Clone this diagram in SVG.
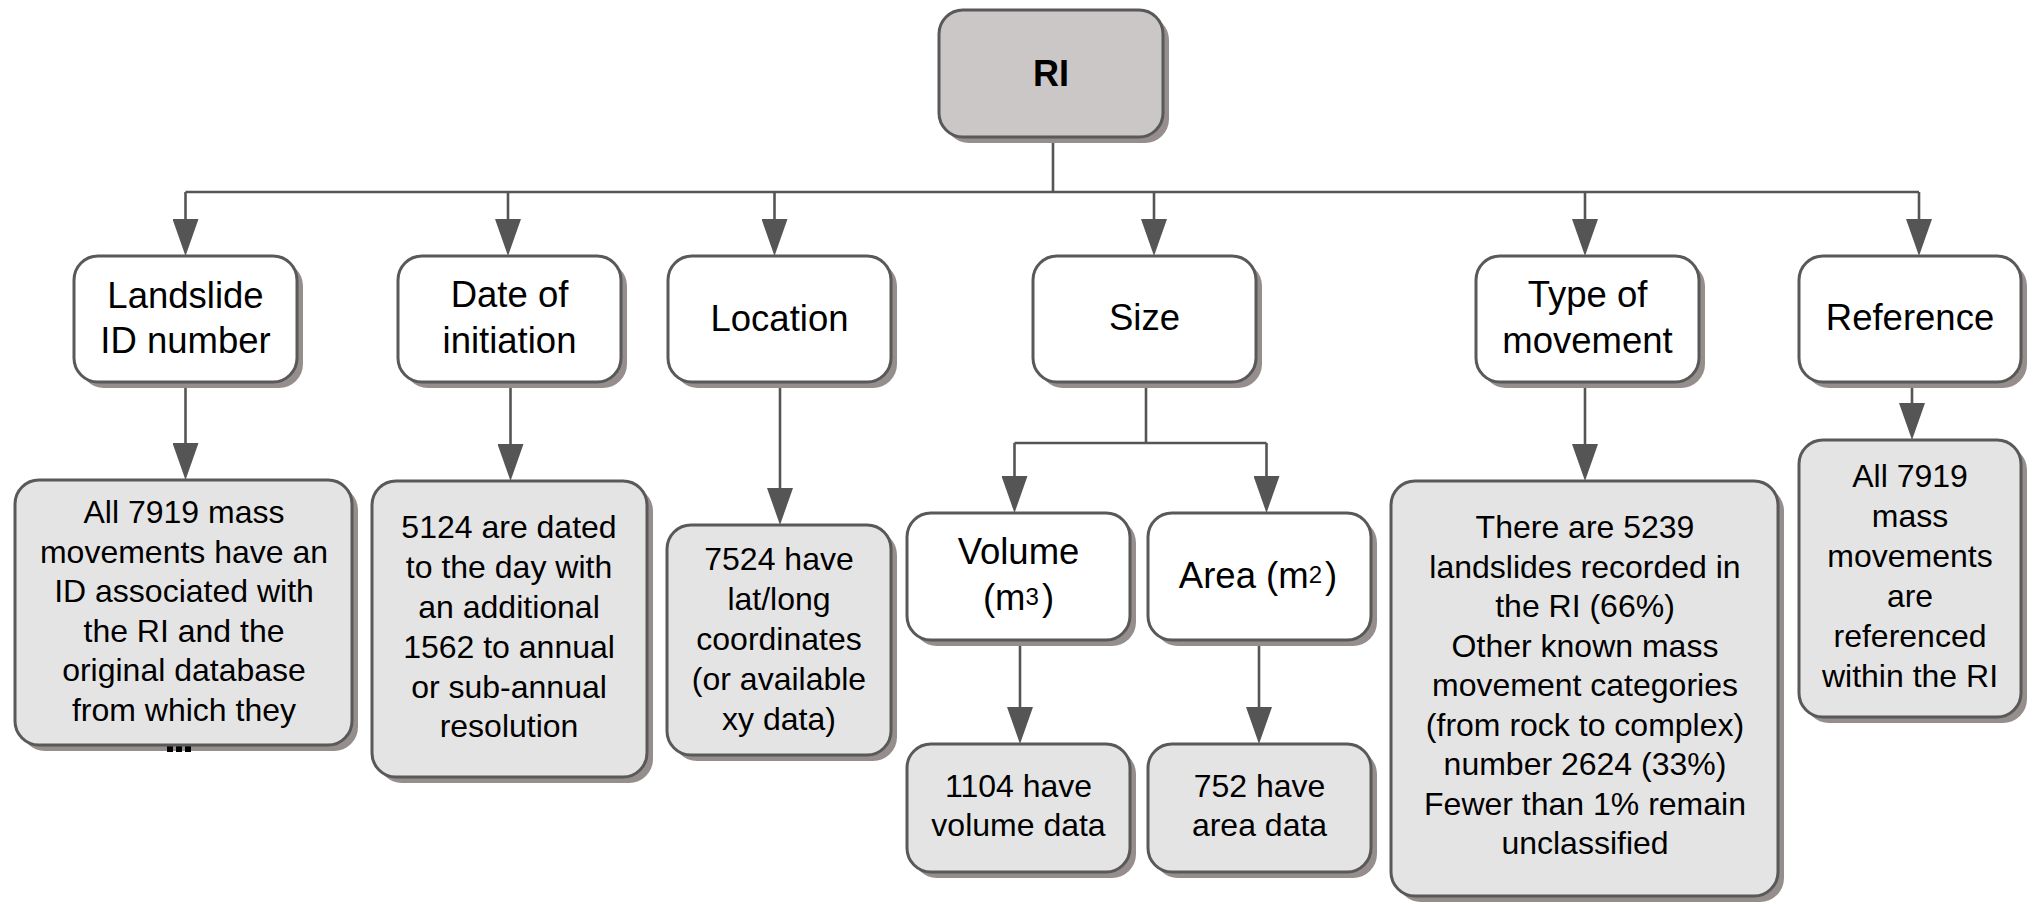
<svg xmlns="http://www.w3.org/2000/svg" width="2034" height="904" viewBox="0 0 2034 904">
<style>
.sh{fill:#968d8d;}
.bx{stroke:#595959;stroke-width:3;}
.root{fill:#cbc7c7;}
.l1{fill:#ffffff;}
.l2{fill:#e5e4e4;}
text{font-family:"Liberation Sans",Arial,sans-serif;fill:#000;text-anchor:middle;}
.t1{font-size:36.5px;}
.t2{font-size:32px;}
.tr{font-size:36px;font-weight:bold;}
.cn{fill:none;stroke:#555555;stroke-width:2.6;}
</style>
<defs>
<marker id="ah" viewBox="0 0 37 26" refX="0" refY="13" markerWidth="37" markerHeight="26" markerUnits="userSpaceOnUse" orient="auto">
<path d="M0,0 L37,13 L0,26 Z" fill="#555555"/>
</marker>
</defs>
<g id="connectors">
<path class="cn" d="M1053,137 V192 M185.5,192 H1919"/>
<path class="cn" d="M185.5,192 V219" marker-end="url(#ah)"/>
<path class="cn" d="M508,192 V219" marker-end="url(#ah)"/>
<path class="cn" d="M774.5,192 V219" marker-end="url(#ah)"/>
<path class="cn" d="M1154,192 V219" marker-end="url(#ah)"/>
<path class="cn" d="M1585,192 V219" marker-end="url(#ah)"/>
<path class="cn" d="M1919,192 V219" marker-end="url(#ah)"/>
<path class="cn" d="M185.5,382 V443" marker-end="url(#ah)"/>
<path class="cn" d="M510.5,382 V444" marker-end="url(#ah)"/>
<path class="cn" d="M780,382 V488" marker-end="url(#ah)"/>
<path class="cn" d="M1146,382 V443 M1014.5,443 H1266.5"/>
<path class="cn" d="M1014.5,443 V476" marker-end="url(#ah)"/>
<path class="cn" d="M1266.5,443 V476" marker-end="url(#ah)"/>
<path class="cn" d="M1020,640 V707" marker-end="url(#ah)"/>
<path class="cn" d="M1259,640 V707" marker-end="url(#ah)"/>
<path class="cn" d="M1585,382 V444" marker-end="url(#ah)"/>
<path class="cn" d="M1912,382 V403" marker-end="url(#ah)"/>
</g>
<g id="ri">
<rect class="sh" x="945" y="16" width="224" height="127" rx="24"/>
<rect class="bx root" x="939" y="10" width="224" height="127" rx="24"/>
<text class="tr" x="1051" y="86">RI</text>
</g>
<g id="landslide-id">
<rect class="sh" x="80" y="262" width="223" height="126" rx="24"/>
<rect class="bx l1" x="74" y="256" width="223" height="126" rx="24"/>
<text class="t1" x="185.5" y="308">Landslide</text>
<text class="t1" x="185.5" y="353">ID number</text>
</g>
<g id="date">
<rect class="sh" x="404" y="262" width="223" height="126" rx="24"/>
<rect class="bx l1" x="398" y="256" width="223" height="126" rx="24"/>
<text class="t1" x="509.5" y="307">Date of</text>
<text class="t1" x="509.5" y="353">initiation</text>
</g>
<g id="location">
<rect class="sh" x="674" y="262" width="223" height="126" rx="24"/>
<rect class="bx l1" x="668" y="256" width="223" height="126" rx="24"/>
<text class="t1" x="779.5" y="331">Location</text>
</g>
<g id="size">
<rect class="sh" x="1039" y="262" width="223" height="126" rx="24"/>
<rect class="bx l1" x="1033" y="256" width="223" height="126" rx="24"/>
<text class="t1" x="1144.5" y="330">Size</text>
</g>
<g id="type">
<rect class="sh" x="1482" y="262" width="223" height="126" rx="24"/>
<rect class="bx l1" x="1476" y="256" width="223" height="126" rx="24"/>
<text class="t1" x="1587.5" y="307">Type of</text>
<text class="t1" x="1587.5" y="353">movement</text>
</g>
<g id="reference">
<rect class="sh" x="1805" y="262" width="222" height="126" rx="24"/>
<rect class="bx l1" x="1799" y="256" width="222" height="126" rx="24"/>
<text class="t1" x="1910" y="330">Reference</text>
</g>
<g id="landslide-detail">
<rect class="sh" x="21" y="486" width="337" height="265" rx="24"/>
<rect x="167" y="743" width="6" height="9" fill="#000"/>
<rect x="176" y="743" width="6" height="9" fill="#000"/>
<rect x="185" y="743" width="6" height="9" fill="#000"/>
<rect class="bx l2" x="15" y="480" width="337" height="265" rx="24"/>
<text class="t2" x="184" y="523">All 7919 mass</text>
<text class="t2" x="184" y="562.5">movements have an</text>
<text class="t2" x="184" y="602">ID associated with</text>
<text class="t2" x="184" y="641.5">the RI and the</text>
<text class="t2" x="184" y="681">original database</text>
<text class="t2" x="184" y="720.5">from which they</text>
</g>
<g id="date-detail">
<rect class="sh" x="378" y="487" width="275" height="296" rx="24"/>
<rect class="bx l2" x="372" y="481" width="275" height="296" rx="24"/>
<text class="t2" x="509" y="538">5124 are dated</text>
<text class="t2" x="509" y="578">to the day with</text>
<text class="t2" x="509" y="618">an additional</text>
<text class="t2" x="509" y="658">1562 to annual</text>
<text class="t2" x="509" y="698">or sub-annual</text>
<text class="t2" x="509" y="737">resolution</text>
</g>
<g id="location-detail">
<rect class="sh" x="673" y="531" width="224" height="230" rx="24"/>
<rect class="bx l2" x="667" y="525" width="224" height="230" rx="24"/>
<text class="t2" x="779" y="570">7524 have</text>
<text class="t2" x="779" y="610">lat/long</text>
<text class="t2" x="779" y="650">coordinates</text>
<text class="t2" x="779" y="690">(or available</text>
<text class="t2" x="779" y="730">xy data)</text>
</g>
<g id="volume">
<rect class="sh" x="913" y="519" width="223" height="127" rx="24"/>
<rect class="bx l1" x="907" y="513" width="223" height="127" rx="24"/>
<text class="t1" x="1018.5" y="564">Volume</text>
<text class="t1" x="1018.5" y="610">(m<tspan font-size="24" dy="-5">3</tspan><tspan dx="3" dy="5">)</tspan></text>
</g>
<g id="area">
<rect class="sh" x="1154" y="519" width="223" height="127" rx="24"/>
<rect class="bx l1" x="1148" y="513" width="223" height="127" rx="24"/>
<text class="t1" x="1258" y="588">Area (m<tspan font-size="24" dy="-5">2</tspan><tspan dx="3" dy="5">)</tspan></text>
</g>
<g id="volume-data">
<rect class="sh" x="913" y="750" width="223" height="128" rx="24"/>
<rect class="bx l2" x="907" y="744" width="223" height="128" rx="24"/>
<text class="t2" x="1018.5" y="797">1104 have</text>
<text class="t2" x="1018.5" y="836">volume data</text>
</g>
<g id="area-data">
<rect class="sh" x="1154" y="750" width="223" height="128" rx="24"/>
<rect class="bx l2" x="1148" y="744" width="223" height="128" rx="24"/>
<text class="t2" x="1259.5" y="797">752 have</text>
<text class="t2" x="1259.5" y="836">area data</text>
</g>
<g id="type-detail">
<rect class="sh" x="1397" y="487" width="387" height="415" rx="24"/>
<rect class="bx l2" x="1391" y="481" width="387" height="415" rx="24"/>
<text class="t2" x="1585" y="538">There are 5239</text>
<text class="t2" x="1585" y="577.5">landslides recorded in</text>
<text class="t2" x="1585" y="617">the RI (66%)</text>
<text class="t2" x="1585" y="656.5">Other known mass</text>
<text class="t2" x="1585" y="696">movement categories</text>
<text class="t2" x="1585" y="735.5">(from rock to complex)</text>
<text class="t2" x="1585" y="775">number 2624 (33%)</text>
<text class="t2" x="1585" y="814.5">Fewer than 1% remain</text>
<text class="t2" x="1585" y="854">unclassified</text>
</g>
<g id="reference-detail">
<rect class="sh" x="1805" y="446" width="222" height="277" rx="24"/>
<rect class="bx l2" x="1799" y="440" width="222" height="277" rx="24"/>
<text class="t2" x="1910" y="487">All 7919</text>
<text class="t2" x="1910" y="527">mass</text>
<text class="t2" x="1910" y="567">movements</text>
<text class="t2" x="1910" y="607">are</text>
<text class="t2" x="1910" y="647">referenced</text>
<text class="t2" x="1910" y="687">within the RI</text>
</g>
</svg>
